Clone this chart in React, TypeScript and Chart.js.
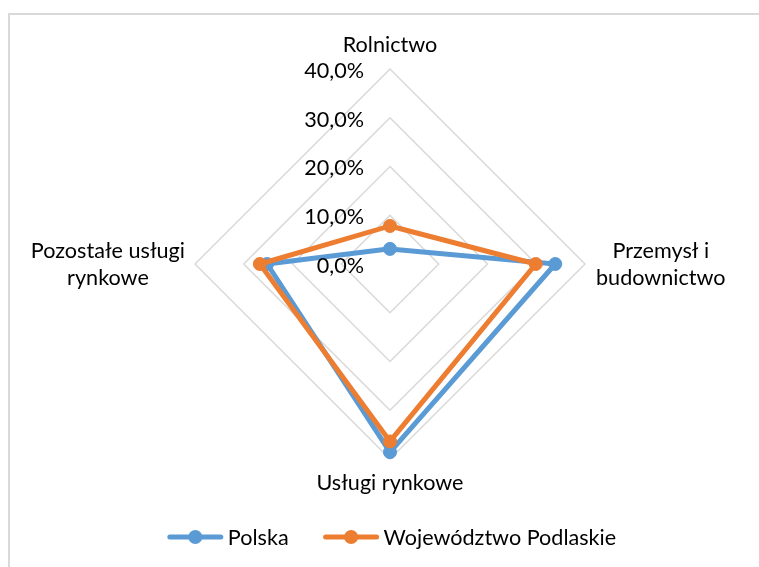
import React, { useEffect, useRef } from "react";
import { Chart, registerables } from "chart.js";

Chart.register(...registerables);

const categories: string[][] = [
  ["Rolnictwo"],
  ["Przemysł i", "budownictwo"],
  ["Usługi rynkowe"],
  ["Pozostałe usługi", "rynkowe"],
];
const seriesNames: string[] = ["Polska", "Województwo Podlaskie"];
const polska: number[] = [3.1, 33.9, 38.6, 25.2];
const podlaskie: number[] = [7.8, 29.9, 36.4, 26.7];
const tickValues: number[] = [0, 10, 20, 30, 40];
const tickLabels: string[] = ["0,0%", "10,0%", "20,0%", "30,0%", "40,0%"];

const COLORS = ["#5b9bd5", "#ed7d31"];
const FONT = "21.6px Lato";

const overlayPlugin = {
  id: "overlay",
  beforeDraw(chart: any) {
    const ctx = chart.ctx;
    ctx.save();
    ctx.fillStyle = "#ffffff";
    ctx.fillRect(0, 0, chart.width, chart.height);
    ctx.fillStyle = "#d9d9d9";
    ctx.fillRect(8, 13, chart.width, 2);
    ctx.fillRect(8, 13, 2, chart.height);
    ctx.restore();
  },
  afterDraw(chart: any) {
    const ctx = chart.ctx;
    const s = chart.scales.r;
    const xc = s.xCenter;
    const yc = s.yCenter;
    const R = s.drawingArea;
    ctx.save();
    ctx.font = FONT;
    ctx.fillStyle = "#000000";

    // tick labels
    ctx.textAlign = "right";
    ctx.textBaseline = "middle";
    tickValues.forEach((v, i) => {
      const d = s.getDistanceFromCenterForValue(v);
      ctx.fillText(tickLabels[i], xc - 26, yc - d + 2);
    });

    // point labels
    const lh = 27;
    ctx.textAlign = "center";
    ctx.textBaseline = "alphabetic";
    (chart.data.labels as any[]).forEach((lab, i) => {
      const lines: string[] = Array.isArray(lab) ? lab : [lab];
      const p = s.getPointPosition(i, R);
      const dx = p.x - xc;
      const dy = p.y - yc;
      const maxW = Math.max(...lines.map((l) => ctx.measureText(l).width));
      if (Math.abs(dy) > Math.abs(dx)) {
        if (dy < 0) {
          lines.forEach((l, k) =>
            ctx.fillText(l, p.x, p.y - 17 - (lines.length - 1 - k) * lh)
          );
        } else {
          lines.forEach((l, k) => ctx.fillText(l, p.x, p.y + 31 + k * lh));
        }
      } else {
        const cx = dx > 0 ? p.x + 11 + maxW / 2 : p.x - 10 - maxW / 2;
        lines.forEach((l, k) =>
          ctx.fillText(l, cx, p.y + 7.5 + (k - (lines.length - 1) / 2) * lh)
        );
      }
    });

    // legend
    const ly = 537;
    const lineLen = 55;
    const gapText = 5;
    const itemGap = 35;
    const widths = seriesNames.map((n) => ctx.measureText(n).width);
    const total =
      widths.reduce((a, w) => a + lineLen + gapText + w, 0) +
      itemGap * (seriesNames.length - 1);
    let x = 392 - total / 2;
    ctx.textAlign = "left";
    ctx.textBaseline = "alphabetic";
    seriesNames.forEach((n, i) => {
      ctx.strokeStyle = COLORS[i];
      ctx.lineWidth = 5;
      ctx.lineCap = "round";
      ctx.beginPath();
      ctx.moveTo(x + 2, ly);
      ctx.lineTo(x + lineLen - 2, ly);
      ctx.stroke();
      ctx.fillStyle = COLORS[i];
      ctx.beginPath();
      ctx.arc(x + lineLen / 2, ly, 7, 0, Math.PI * 2);
      ctx.fill();
      ctx.fillStyle = "#000000";
      ctx.fillText(n, x + lineLen + gapText, ly + 7.5);
      x += lineLen + gapText + widths[i] + itemGap;
    });
    ctx.restore();
  },
};

export default function App() {
  const canvasRef = useRef<HTMLCanvasElement | null>(null);

  useEffect(() => {
    if (!canvasRef.current) return;
    const chart = new Chart(canvasRef.current, {
      type: "radar",
      data: {
        labels: categories,
        datasets: [
          {
            label: seriesNames[0],
            data: polska,
            borderColor: COLORS[0],
            backgroundColor: COLORS[0],
            pointBackgroundColor: COLORS[0],
            pointBorderColor: COLORS[0],
            borderWidth: 5,
            pointRadius: 6.5,
            pointBorderWidth: 1,
            fill: false,
            order: 1,
          },
          {
            label: seriesNames[1],
            data: podlaskie,
            borderColor: COLORS[1],
            backgroundColor: COLORS[1],
            pointBackgroundColor: COLORS[1],
            pointBorderColor: COLORS[1],
            borderWidth: 5,
            pointRadius: 6.5,
            pointBorderWidth: 1,
            fill: false,
            order: 0,
          },
        ],
      },
      options: {
        animation: false,
        responsive: false,
        layout: { padding: { left: 195, right: 174, top: 69, bottom: 108 } },
        plugins: { legend: { display: false }, tooltip: { enabled: false } },
        scales: {
          r: {
            min: 0,
            max: 40,
            beginAtZero: true,
            ticks: { display: false, stepSize: 10 },
            pointLabels: { display: false },
            angleLines: { display: false },
            grid: { color: "#d9d9d9", lineWidth: 1.5 },
          },
        },
      },
      plugins: [overlayPlugin],
    } as any);
    return () => chart.destroy();
  }, []);

  return (
    <div style={{ position: "fixed", left: 0, top: 0, width: 759, height: 567 }}>
      <canvas ref={canvasRef} width={759} height={567} style={{ display: "block" }} />
    </div>
  );
}
